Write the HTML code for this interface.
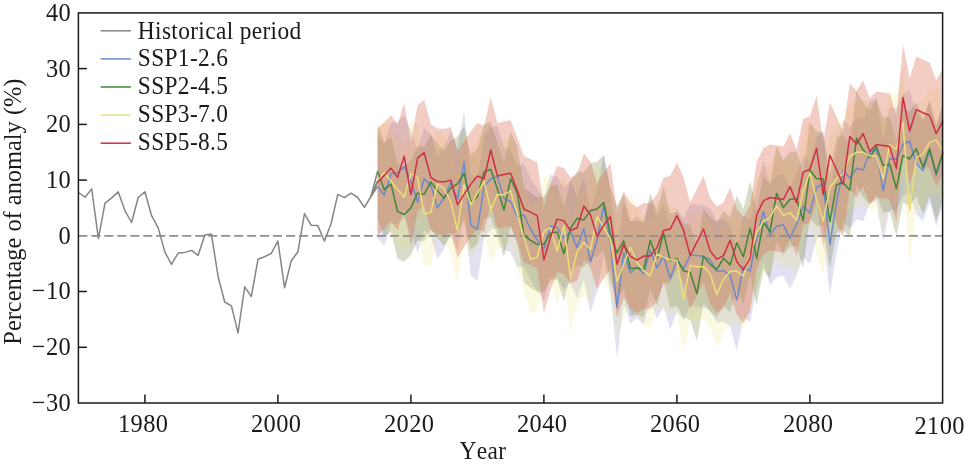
<!DOCTYPE html>
<html lang="en"><head><meta charset="utf-8"><title>Percentage of anomaly</title>
<style>html,body{margin:0;padding:0;background:#fff}body{width:964px;height:466px;overflow:hidden}svg{display:block}text{font-family:"Liberation Serif","Times New Roman",serif;fill:#1a1a1a;font-kerning:none;letter-spacing:0.385px}</style></head><body>
<svg width="964" height="466" viewBox="0 0 964 466">
<rect width="964" height="466" fill="#fff"/>
<polygon points="377.6,135.4 384.3,144.0 391.0,122.6 397.6,122.0 404.2,115.6 410.9,130.1 417.6,151.0 424.2,127.7 430.9,134.4 437.5,156.9 444.1,146.5 450.8,131.5 457.5,148.4 464.1,111.1 470.8,173.8 477.4,178.5 484.1,135.5 490.7,127.7 497.4,125.6 504.0,147.4 510.6,150.5 517.3,165.5 524.0,164.0 530.6,178.3 537.2,188.8 543.9,198.1 550.6,175.1 557.2,176.7 563.9,187.4 570.5,180.8 577.1,196.6 583.8,177.7 590.5,211.1 597.1,188.8 603.8,154.4 610.4,192.0 617.0,256.3 623.7,202.0 630.4,221.7 637.0,216.0 643.6,222.7 650.3,199.4 657.0,217.0 663.6,205.1 670.2,227.4 676.9,209.5 683.5,218.3 690.2,204.0 696.9,204.6 703.5,205.6 710.1,208.7 716.8,220.6 723.5,219.6 730.1,224.3 736.8,249.1 743.4,215.5 750.1,220.1 756.7,187.0 763.4,160.8 770.0,183.6 776.6,175.3 783.3,173.8 790.0,187.0 796.6,173.2 803.2,155.6 809.9,161.8 816.6,136.4 823.2,132.8 829.9,193.5 836.5,151.0 843.1,119.5 849.8,127.0 856.5,117.4 863.1,118.9 869.8,101.3 876.4,98.2 883.1,139.8 889.7,107.5 896.4,108.6 903.0,93.5 909.6,90.2 916.3,112.2 923.0,119.5 929.6,99.7 936.2,124.6 942.9,102.3 942.9,204.3 936.2,226.6 929.6,201.7 923.0,221.5 916.3,214.2 909.6,192.2 903.0,195.5 896.4,210.6 889.7,209.5 883.1,241.8 876.4,200.2 869.8,203.3 863.1,220.9 856.5,219.4 849.8,229.0 843.1,221.5 836.5,253.0 829.9,295.5 823.2,234.8 816.6,238.4 809.9,263.8 803.2,257.6 796.6,275.2 790.0,289.0 783.3,275.8 776.6,277.3 770.0,285.6 763.4,262.8 756.7,289.0 750.1,322.1 743.4,317.5 736.8,351.1 730.1,326.3 723.5,321.6 716.8,322.6 710.1,310.7 703.5,307.6 696.9,306.6 690.2,306.0 683.5,320.3 676.9,311.5 670.2,329.4 663.6,307.1 657.0,319.0 650.3,301.4 643.6,324.7 637.0,318.0 630.4,323.7 623.7,304.0 617.0,358.3 610.4,294.0 603.8,256.4 597.1,290.8 590.5,313.1 583.8,279.7 577.1,298.6 570.5,282.8 563.9,289.4 557.2,278.7 550.6,277.1 543.9,300.1 537.2,290.8 530.6,280.3 524.0,266.0 517.3,267.5 510.6,252.5 504.0,249.4 497.4,227.6 490.7,229.7 484.1,237.5 477.4,280.5 470.8,275.8 464.1,213.1 457.5,250.4 450.8,233.5 444.1,248.5 437.5,258.9 430.9,236.4 424.2,229.7 417.6,253.0 410.9,232.1 404.2,217.6 397.6,224.0 391.0,224.6 384.3,246.0 377.6,237.4" fill="#8083c6" fill-opacity="0.24"/>
<polygon points="377.6,123.9 384.3,142.4 391.0,136.8 397.6,164.3 404.2,167.2 410.9,160.6 417.6,145.6 424.2,146.9 430.9,134.6 437.5,143.4 444.1,150.9 450.8,140.7 457.5,136.6 464.1,126.2 470.8,154.7 477.4,149.5 484.1,124.5 490.7,122.1 497.4,141.7 504.0,162.7 510.6,131.4 517.3,145.9 524.0,187.9 530.6,193.1 537.2,197.1 543.9,196.9 550.6,185.7 557.2,184.8 563.9,206.5 570.5,180.9 577.1,171.0 583.8,172.6 590.5,163.3 597.1,161.7 603.8,155.2 610.4,187.2 617.0,205.5 623.7,193.6 630.4,221.2 637.0,220.7 643.6,222.3 650.3,193.2 657.0,210.9 663.6,185.9 670.2,213.4 676.9,211.4 683.5,223.5 690.2,225.2 696.9,246.4 703.5,208.8 710.1,217.1 716.8,222.3 723.5,210.9 730.1,217.6 736.8,195.4 743.4,209.3 750.1,181.1 756.7,210.9 763.4,174.9 770.0,184.2 776.6,146.1 783.3,160.3 790.0,152.0 796.6,151.5 803.2,173.3 809.9,123.0 816.6,131.3 823.2,131.8 829.9,174.3 836.5,137.4 843.1,135.2 849.8,143.0 856.5,91.0 863.1,102.4 869.8,110.2 876.4,99.3 883.1,118.0 889.7,116.9 896.4,141.4 903.0,108.1 909.6,111.7 916.3,101.4 923.0,120.0 929.6,101.4 936.2,126.3 942.9,105.0 942.9,199.6 936.2,220.9 929.6,196.0 923.0,214.6 916.3,196.0 909.6,206.3 903.0,202.7 896.4,236.0 889.7,211.5 883.1,212.6 876.4,193.9 869.8,204.8 863.1,197.0 856.5,185.6 849.8,237.6 843.1,229.8 836.5,232.0 829.9,268.9 823.2,226.4 816.6,225.9 809.9,217.6 803.2,267.9 796.6,246.1 790.0,246.6 783.3,254.9 776.6,240.7 770.0,278.8 763.4,269.5 756.7,305.5 750.1,275.7 743.4,303.9 736.8,290.0 730.1,312.2 723.5,305.5 716.8,316.9 710.1,311.7 703.5,303.4 696.9,341.0 690.2,319.8 683.5,318.1 676.9,306.0 670.2,308.0 663.6,280.5 657.0,305.5 650.3,287.8 643.6,316.9 637.0,315.3 630.4,315.8 623.7,288.2 617.0,300.1 610.4,281.8 603.8,249.8 597.1,256.3 590.5,257.9 583.8,267.2 577.1,265.6 570.5,275.5 563.9,301.1 557.2,279.4 550.6,280.3 543.9,291.5 537.2,291.7 530.6,287.7 524.0,282.5 517.3,240.5 510.6,226.0 504.0,257.3 497.4,236.3 490.7,216.7 484.1,219.1 477.4,244.1 470.8,249.3 464.1,220.8 457.5,231.2 450.8,235.3 444.1,245.5 437.5,238.0 430.9,229.2 424.2,241.5 417.6,240.2 410.9,255.2 404.2,261.8 397.6,258.9 391.0,231.4 384.3,237.0 377.6,218.5" fill="#436000" fill-opacity="0.21"/>
<polygon points="377.6,127.8 384.3,119.4 391.0,127.8 397.6,136.2 404.2,143.9 410.9,120.3 417.6,124.6 424.2,161.0 430.9,158.9 437.5,130.8 444.1,135.2 450.8,148.5 457.5,177.2 464.1,131.1 470.8,151.3 477.4,139.9 484.1,128.0 490.7,156.5 497.4,141.1 504.0,141.4 510.6,137.6 517.3,160.6 524.0,184.5 530.6,206.2 537.2,204.1 543.9,178.0 550.6,174.4 557.2,197.9 563.9,172.3 570.5,225.4 577.1,198.4 583.8,189.1 590.5,196.3 597.1,163.5 603.8,173.9 610.4,185.7 617.0,228.2 623.7,211.1 630.4,194.0 637.0,209.0 643.6,217.3 650.3,222.5 657.0,200.7 663.6,203.8 670.2,206.4 676.9,206.9 683.5,246.3 690.2,212.1 696.9,213.7 703.5,213.2 710.1,220.4 716.8,241.1 723.5,225.9 730.1,218.3 736.8,217.8 743.4,222.5 750.1,201.4 756.7,179.2 763.4,168.3 770.0,164.2 776.6,152.3 783.3,162.1 790.0,159.3 796.6,167.3 803.2,137.7 809.9,119.1 816.6,146.2 823.2,167.8 829.9,134.6 836.5,125.2 843.1,120.7 849.8,103.2 856.5,99.0 863.1,99.0 869.8,102.6 876.4,102.1 883.1,125.6 889.7,91.2 896.4,96.4 903.0,68.9 909.6,157.2 916.3,104.5 923.0,100.9 929.6,89.1 936.2,86.6 942.9,98.0 942.9,204.6 936.2,193.2 929.6,195.7 923.0,207.5 916.3,211.1 909.6,263.8 903.0,175.5 896.4,203.0 889.7,197.8 883.1,232.2 876.4,208.7 869.8,209.2 863.1,205.6 856.5,205.6 849.8,209.8 843.1,227.3 836.5,231.8 829.9,241.2 823.2,274.4 816.6,252.8 809.9,225.7 803.2,244.3 796.6,273.9 790.0,265.9 783.3,268.7 776.6,258.9 770.0,270.8 763.4,274.9 756.7,285.8 750.1,308.0 743.4,329.1 736.8,324.4 730.1,324.9 723.5,332.5 716.8,347.7 710.1,327.0 703.5,319.8 696.9,320.3 690.2,318.7 683.5,352.9 676.9,313.5 670.2,313.0 663.6,310.4 657.0,307.3 650.3,329.1 643.6,323.9 637.0,315.6 630.4,300.6 623.7,317.7 617.0,334.8 610.4,292.3 603.8,280.5 597.1,270.1 590.5,302.9 583.8,295.7 577.1,305.0 570.5,332.0 563.9,278.9 557.2,304.5 550.6,281.0 543.9,284.6 537.2,310.7 530.6,312.8 524.0,291.1 517.3,267.2 510.6,244.2 504.0,248.0 497.4,247.7 490.7,263.1 484.1,234.6 477.4,246.5 470.8,257.9 464.1,237.7 457.5,283.8 450.8,255.1 444.1,241.8 437.5,237.4 430.9,265.5 424.2,267.6 417.6,231.2 410.9,226.9 404.2,250.5 397.6,242.8 391.0,234.4 384.3,226.0 377.6,234.4" fill="#eee063" fill-opacity="0.19"/>
<polygon points="377.6,129.1 384.3,122.4 391.0,115.1 397.6,124.4 404.2,103.1 410.9,141.5 417.6,105.2 424.2,99.7 430.9,124.5 437.5,128.6 444.1,128.9 450.8,127.1 457.5,151.6 464.1,141.3 470.8,131.4 477.4,122.9 484.1,126.0 490.7,97.0 497.4,122.9 504.0,121.6 510.6,120.2 517.3,137.6 524.0,156.3 530.6,159.1 537.2,162.6 543.9,207.0 550.6,183.8 557.2,166.1 563.9,167.9 570.5,177.6 577.1,174.7 583.8,153.2 590.5,161.7 597.1,183.5 603.8,172.1 610.4,163.5 617.0,211.3 623.7,191.6 630.4,203.1 637.0,207.2 643.6,203.1 650.3,203.1 657.0,194.6 663.6,177.6 670.2,176.0 676.9,162.6 683.5,177.1 690.2,202.5 696.9,189.2 703.5,176.0 710.1,197.9 716.8,206.2 723.5,202.6 730.1,187.2 736.8,208.8 743.4,217.1 750.1,205.2 756.7,161.9 763.4,147.9 770.0,144.5 776.6,145.5 783.3,146.5 790.0,133.6 796.6,150.0 803.2,119.1 809.9,116.3 816.6,95.5 823.2,141.7 829.9,102.2 836.5,116.8 843.1,131.5 849.8,83.4 856.5,91.0 863.1,80.6 869.8,98.3 876.4,91.5 883.1,92.6 889.7,93.6 896.4,115.4 903.0,44.5 909.6,78.2 916.3,56.6 923.0,59.7 929.6,62.5 936.2,80.6 942.9,68.2 942.9,174.2 936.2,186.6 929.6,168.5 923.0,165.7 916.3,162.6 909.6,184.2 903.0,150.5 896.4,221.4 889.7,199.6 883.1,198.6 876.4,197.5 869.8,204.3 863.1,186.6 856.5,197.0 849.8,189.4 843.1,237.5 836.5,222.8 829.9,208.2 823.2,247.7 816.6,201.5 809.9,222.3 803.2,225.1 796.6,256.0 790.0,239.6 783.3,252.5 776.6,251.5 770.0,250.5 763.4,253.9 756.7,267.9 750.1,311.2 743.4,323.1 736.8,314.8 730.1,293.2 723.5,308.6 716.8,312.2 710.1,303.9 703.5,282.0 696.9,295.2 690.2,308.5 683.5,283.1 676.9,268.6 670.2,282.0 663.6,283.6 657.0,300.6 650.3,309.1 643.6,309.1 637.0,313.2 630.4,309.1 623.7,297.6 617.0,317.3 610.4,269.5 603.8,278.1 597.1,289.5 590.5,267.7 583.8,259.2 577.1,280.7 570.5,283.6 563.9,273.9 557.2,272.1 550.6,289.8 543.9,313.0 537.2,268.6 530.6,265.1 524.0,262.3 517.3,243.6 510.6,226.2 504.0,227.6 497.4,228.9 490.7,203.0 484.1,232.0 477.4,228.9 470.8,237.4 464.1,247.3 457.5,257.6 450.8,233.1 444.1,234.9 437.5,234.6 430.9,230.5 424.2,205.7 417.6,211.2 410.9,247.5 404.2,209.1 397.6,230.4 391.0,221.1 384.3,228.4 377.6,235.1" fill="#dd6a50" fill-opacity="0.34"/>
<line x1="78.4" y1="235.9" x2="942.6" y2="235.9" stroke="#8f8f8f" stroke-width="1.9" stroke-dasharray="9.0 3.976"/>
<polyline points="78.4,192.5 85.1,197.2 91.7,188.9 98.4,238.6 105.0,203.2 111.7,197.9 118.3,191.9 125.0,210.8 131.6,222.5 138.2,197.5 144.9,191.7 151.6,215.7 158.2,227.9 164.9,252.1 171.5,264.4 178.2,253.0 184.8,252.4 191.5,250.4 198.1,255.4 204.8,235.0 211.4,234.1 218.1,276.5 224.7,302.0 231.4,305.8 238.0,332.9 244.7,286.8 251.3,296.6 258.0,259.3 264.6,256.7 271.2,253.5 277.9,241.1 284.6,287.8 291.2,261.0 297.9,251.8 304.5,213.6 311.1,225.2 317.8,225.6 324.5,241.1 331.1,223.5 337.8,194.3 344.4,197.7 351.1,193.2 357.7,197.5 364.4,207.4 371.0,196.5" fill="none" stroke="#858585" stroke-width="1.5" stroke-linejoin="round"/>
<line x1="371.0" y1="196.5" x2="377.6" y2="186.4" stroke="#858585" stroke-width="1.5"/>
<line x1="371.0" y1="196.5" x2="377.6" y2="171.2" stroke="#858585" stroke-width="1.5"/>
<line x1="371.0" y1="196.5" x2="377.6" y2="181.1" stroke="#858585" stroke-width="1.5"/>
<line x1="371.0" y1="196.5" x2="377.6" y2="182.1" stroke="#858585" stroke-width="1.5"/>
<polyline points="377.6,186.4 384.3,195.0 391.0,173.6 397.6,173.0 404.2,166.6 410.9,181.1 417.6,202.0 424.2,178.7 430.9,185.4 437.5,207.9 444.1,197.5 450.8,182.5 457.5,199.4 464.1,162.1 470.8,224.8 477.4,229.5 484.1,186.5 490.7,178.7 497.4,176.6 504.0,198.4 510.6,201.5 517.3,216.5 524.0,215.0 530.6,229.3 537.2,239.8 543.9,249.1 550.6,226.1 557.2,227.7 563.9,238.4 570.5,231.8 577.1,247.6 583.8,228.7 590.5,262.1 597.1,239.8 603.8,205.4 610.4,243.0 617.0,307.3 623.7,253.0 630.4,272.7 637.0,267.0 643.6,273.7 650.3,250.4 657.0,268.0 663.6,256.1 670.2,278.4 676.9,260.5 683.5,269.3 690.2,255.0 696.9,255.6 703.5,256.6 710.1,259.7 716.8,271.6 723.5,270.6 730.1,275.3 736.8,300.1 743.4,266.5 750.1,271.1 756.7,238.0 763.4,211.8 770.0,234.6 776.6,226.3 783.3,224.8 790.0,238.0 796.6,224.2 803.2,206.6 809.9,212.8 816.6,187.4 823.2,183.8 829.9,244.5 836.5,202.0 843.1,170.5 849.8,178.0 856.5,168.4 863.1,169.9 869.8,152.3 876.4,149.2 883.1,190.8 889.7,158.5 896.4,159.6 903.0,144.5 909.6,141.2 916.3,163.2 923.0,170.5 929.6,150.7 936.2,175.6 942.9,153.3" fill="none" stroke="#6c8ac9" stroke-width="1.5" stroke-linejoin="round"/>
<polyline points="377.6,171.2 384.3,189.7 391.0,184.1 397.6,211.6 404.2,214.5 410.9,207.9 417.6,192.9 424.2,194.2 430.9,181.9 437.5,190.7 444.1,198.2 450.8,188.0 457.5,183.9 464.1,173.5 470.8,202.0 477.4,196.8 484.1,171.8 490.7,169.4 497.4,189.0 504.0,210.0 510.6,178.7 517.3,193.2 524.0,235.2 530.6,240.4 537.2,244.4 543.9,244.2 550.6,233.0 557.2,232.1 563.9,253.8 570.5,228.2 577.1,218.3 583.8,219.9 590.5,210.6 597.1,209.0 603.8,202.5 610.4,234.5 617.0,252.8 623.7,240.9 630.4,268.5 637.0,268.0 643.6,269.6 650.3,240.5 657.0,258.2 663.6,233.2 670.2,260.7 676.9,258.7 683.5,270.8 690.2,272.5 696.9,293.7 703.5,256.1 710.1,264.4 716.8,269.6 723.5,258.2 730.1,264.9 736.8,242.7 743.4,256.6 750.1,228.4 756.7,258.2 763.4,222.2 770.0,231.5 776.6,193.4 783.3,207.6 790.0,199.3 796.6,198.8 803.2,220.6 809.9,170.3 816.6,178.6 823.2,179.1 829.9,221.6 836.5,184.7 843.1,182.5 849.8,190.3 856.5,138.3 863.1,149.7 869.8,157.5 876.4,146.6 883.1,165.3 889.7,164.2 896.4,188.7 903.0,155.4 909.6,159.0 916.3,148.7 923.0,167.3 929.6,148.7 936.2,173.6 942.9,152.3" fill="none" stroke="#3f8737" stroke-width="1.5" stroke-linejoin="round"/>
<polyline points="377.6,181.1 384.3,172.7 391.0,181.1 397.6,189.5 404.2,197.2 410.9,173.6 417.6,177.9 424.2,214.3 430.9,212.2 437.5,184.1 444.1,188.5 450.8,201.8 457.5,230.5 464.1,184.4 470.8,204.6 477.4,193.2 484.1,181.3 490.7,209.8 497.4,194.4 504.0,194.7 510.6,190.9 517.3,213.9 524.0,237.8 530.6,259.5 537.2,257.4 543.9,231.3 550.6,227.7 557.2,251.2 563.9,225.6 570.5,278.7 577.1,251.7 583.8,242.4 590.5,249.6 597.1,216.8 603.8,227.2 610.4,239.0 617.0,281.5 623.7,264.4 630.4,247.3 637.0,262.3 643.6,270.6 650.3,275.8 657.0,254.0 663.6,257.1 670.2,259.7 676.9,260.2 683.5,299.6 690.2,265.4 696.9,267.0 703.5,266.5 710.1,273.7 716.8,294.4 723.5,279.2 730.1,271.6 736.8,271.1 743.4,275.8 750.1,254.7 756.7,232.5 763.4,221.6 770.0,217.5 776.6,205.6 783.3,215.4 790.0,212.6 796.6,220.6 803.2,191.0 809.9,172.4 816.6,199.5 823.2,221.1 829.9,187.9 836.5,178.5 843.1,174.0 849.8,156.5 856.5,152.3 863.1,152.3 869.8,155.9 876.4,155.4 883.1,178.9 889.7,144.5 896.4,149.7 903.0,122.2 909.6,210.5 916.3,157.8 923.0,154.2 929.6,142.4 936.2,139.9 942.9,151.3" fill="none" stroke="#eddd7c" stroke-width="1.5" stroke-linejoin="round"/>
<polyline points="377.6,182.1 384.3,175.4 391.0,168.1 397.6,177.4 404.2,156.1 410.9,194.5 417.6,158.2 424.2,152.7 430.9,177.5 437.5,181.6 444.1,181.9 450.8,180.1 457.5,204.6 464.1,194.3 470.8,184.4 477.4,175.9 484.1,179.0 490.7,150.0 497.4,175.9 504.0,174.6 510.6,173.2 517.3,190.6 524.0,209.3 530.6,212.1 537.2,215.6 543.9,260.0 550.6,236.8 557.2,219.1 563.9,220.9 570.5,230.6 577.1,227.7 583.8,206.2 590.5,214.7 597.1,236.5 603.8,225.1 610.4,216.5 617.0,264.3 623.7,244.6 630.4,256.1 637.0,260.2 643.6,256.1 650.3,256.1 657.0,247.6 663.6,230.6 670.2,229.0 676.9,215.6 683.5,230.1 690.2,255.5 696.9,242.2 703.5,229.0 710.1,250.9 716.8,259.2 723.5,255.6 730.1,240.2 736.8,261.8 743.4,270.1 750.1,258.2 756.7,214.9 763.4,200.9 770.0,197.5 776.6,198.5 783.3,199.5 790.0,186.6 796.6,203.0 803.2,172.1 809.9,169.3 816.6,148.5 823.2,194.7 829.9,155.2 836.5,169.8 843.1,184.5 849.8,136.4 856.5,144.0 863.1,133.6 869.8,151.3 876.4,144.5 883.1,145.6 889.7,146.6 896.4,168.4 903.0,97.5 909.6,131.2 916.3,109.6 923.0,112.7 929.6,115.5 936.2,133.6 942.9,121.2" fill="none" stroke="#cf2e44" stroke-width="1.5" stroke-linejoin="round"/>
<rect x="78.4" y="12.9" width="864.2" height="390.1" fill="none" stroke="#1a1a1a" stroke-width="1.5"/>
<line x1="78.4" y1="68.6" x2="86.9" y2="68.6" stroke="#1a1a1a" stroke-width="1.5"/>
<line x1="78.4" y1="124.4" x2="86.9" y2="124.4" stroke="#1a1a1a" stroke-width="1.5"/>
<line x1="78.4" y1="180.1" x2="86.9" y2="180.1" stroke="#1a1a1a" stroke-width="1.5"/>
<line x1="78.4" y1="291.5" x2="86.9" y2="291.5" stroke="#1a1a1a" stroke-width="1.5"/>
<line x1="78.4" y1="347.3" x2="86.9" y2="347.3" stroke="#1a1a1a" stroke-width="1.5"/>
<line x1="144.9" y1="403.0" x2="144.9" y2="394.5" stroke="#1a1a1a" stroke-width="1.5"/>
<line x1="277.9" y1="403.0" x2="277.9" y2="394.5" stroke="#1a1a1a" stroke-width="1.5"/>
<line x1="410.9" y1="403.0" x2="410.9" y2="394.5" stroke="#1a1a1a" stroke-width="1.5"/>
<line x1="543.9" y1="403.0" x2="543.9" y2="394.5" stroke="#1a1a1a" stroke-width="1.5"/>
<line x1="676.9" y1="403.0" x2="676.9" y2="394.5" stroke="#1a1a1a" stroke-width="1.5"/>
<line x1="809.9" y1="403.0" x2="809.9" y2="394.5" stroke="#1a1a1a" stroke-width="1.5"/>
<text transform="translate(71.10 20.80) scale(0.9500 1)" font-size="25.74" text-anchor="end">40</text>
<text transform="translate(71.10 76.53) scale(0.9500 1)" font-size="25.74" text-anchor="end">30</text>
<text transform="translate(71.10 132.26) scale(0.9500 1)" font-size="25.74" text-anchor="end">20</text>
<text transform="translate(71.10 187.99) scale(0.9500 1)" font-size="25.74" text-anchor="end">10</text>
<text transform="translate(71.10 243.71) scale(0.9500 1)" font-size="25.74" text-anchor="end">0</text>
<text transform="translate(71.10 299.44) scale(0.9500 1)" font-size="25.74" text-anchor="end">−10</text>
<text transform="translate(71.10 355.17) scale(0.9500 1)" font-size="25.74" text-anchor="end">−20</text>
<text transform="translate(71.10 410.90) scale(0.9500 1)" font-size="25.74" text-anchor="end">−30</text>
<text transform="translate(143.20 432.20) scale(0.9500 1)" font-size="25.74" text-anchor="middle">1980</text>
<text transform="translate(276.20 432.20) scale(0.9500 1)" font-size="25.74" text-anchor="middle">2000</text>
<text transform="translate(409.20 432.20) scale(0.9500 1)" font-size="25.74" text-anchor="middle">2020</text>
<text transform="translate(542.20 432.20) scale(0.9500 1)" font-size="25.74" text-anchor="middle">2040</text>
<text transform="translate(675.20 432.20) scale(0.9500 1)" font-size="25.74" text-anchor="middle">2060</text>
<text transform="translate(808.20 432.20) scale(0.9500 1)" font-size="25.74" text-anchor="middle">2080</text>
<text transform="translate(939.70 434.20) scale(0.9500 1)" font-size="25.74" text-anchor="middle">2100</text>
<text transform="translate(482.90 458.50) scale(0.9090 1)" font-size="25.74" text-anchor="middle">Year</text>
<text transform="translate(21.00 211.60) rotate(-90) scale(0.9505 1)" font-size="25.67" text-anchor="middle" style="letter-spacing:0">Percentage of anomaly (%)</text>
<line x1="100.6" y1="30.8" x2="130.9" y2="30.8" stroke="#858585" stroke-width="1.5"/>
<text transform="translate(137.80 38.70) scale(0.9090 1)" font-size="25.74" text-anchor="start">Historical period</text>
<line x1="100.6" y1="58.9" x2="130.9" y2="58.9" stroke="#6c8ac9" stroke-width="1.5"/>
<text transform="translate(137.80 66.40) scale(0.9090 1)" font-size="25.74" text-anchor="start">SSP1-2.6</text>
<line x1="100.6" y1="87.0" x2="130.9" y2="87.0" stroke="#3f8737" stroke-width="1.5"/>
<text transform="translate(137.80 94.10) scale(0.9090 1)" font-size="25.74" text-anchor="start">SSP2-4.5</text>
<line x1="100.6" y1="115.1" x2="130.9" y2="115.1" stroke="#eddd7c" stroke-width="1.5"/>
<text transform="translate(137.80 121.80) scale(0.9090 1)" font-size="25.74" text-anchor="start">SSP3-7.0</text>
<line x1="100.6" y1="143.2" x2="130.9" y2="143.2" stroke="#cf2e44" stroke-width="1.5"/>
<text transform="translate(137.80 149.50) scale(0.9090 1)" font-size="25.74" text-anchor="start">SSP5-8.5</text>
</svg></body></html>
